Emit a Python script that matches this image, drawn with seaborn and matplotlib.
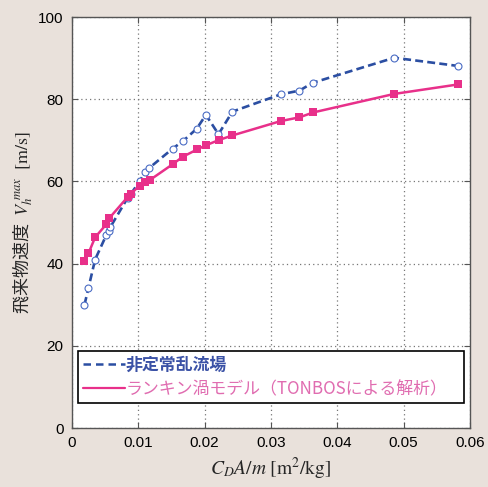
import matplotlib
matplotlib.use('Agg')
import matplotlib.pyplot as plt
import seaborn as sns
import pandas as pd
from matplotlib.lines import Line2D

# 非定常乱流場 (dashed, open circles)
x_flow = [0.0019, 0.0025, 0.0035, 0.0052, 0.0056, 0.0058, 0.0084, 0.0089, 0.0102,
          0.0110, 0.0116, 0.0152, 0.0168, 0.0188, 0.0202, 0.0221, 0.0242, 0.0315,
          0.0343, 0.0363, 0.0486, 0.0582]
y_flow = [30.0, 34.1, 41.0, 47.0, 48.0, 48.9, 56.0, 57.0, 60.0,
          62.2, 63.2, 68.0, 69.9, 72.8, 76.2, 71.5, 77.0, 81.2,
          82.1, 84.0, 90.1, 88.1]

# ランキン渦モデル (solid, squares)
x_rank = [0.0019, 0.0025, 0.0035, 0.0052, 0.0056, 0.0084, 0.0089, 0.0102, 0.0110,
          0.0118, 0.0152, 0.0167, 0.0189, 0.0202, 0.0222, 0.0242, 0.0315, 0.0343,
          0.0364, 0.0486, 0.0582]
y_rank = [40.6, 42.5, 46.4, 49.6, 51.0, 56.2, 57.0, 59.0, 59.8,
          60.4, 64.2, 66.0, 67.8, 68.8, 70.1, 71.2, 74.7, 75.6,
          76.8, 81.3, 83.6]

xticks = [0, 0.01, 0.02, 0.03, 0.04, 0.05, 0.06]
xtick_labels = ['0', '0.01', '0.02', '0.03', '0.04', '0.05', '0.06']
yticks = [0, 20, 40, 60, 80, 100]

label_flow = '非定常乱流場'
label_rank = 'ランキン渦モデル（TONBOSによる解析）'

sns.set_style('ticks')
plt.rcParams['font.family'] = ['Liberation Sans', 'Noto Sans CJK JP', 'DejaVu Sans']
plt.rcParams['mathtext.fontset'] = 'stix'

bg = '#e9e1db'
blue = '#2b4ea2'
pink = '#e8308a'

fig = plt.figure(figsize=(4.89, 4.87), dpi=100, facecolor=bg)
ax = fig.add_axes([0.147, 0.121, 0.814, 0.844])
ax.set_facecolor('white')

df_flow = pd.DataFrame({'x': x_flow, 'y': y_flow})
df_rank = pd.DataFrame({'x': x_rank, 'y': y_rank})

sns.lineplot(data=df_flow, x='x', y='y', ax=ax, color=blue, linestyle=(0, (3, 1.6)),
             linewidth=1.9, marker='o', markersize=5, markerfacecolor='white',
             markeredgecolor='#4a6cc4', markeredgewidth=0.8, sort=False, zorder=3)
sns.lineplot(data=df_rank, x='x', y='y', ax=ax, color=pink, linewidth=1.8,
             marker='s', markersize=6, markeredgewidth=0, sort=False, zorder=4)

ax.set_xlim(0, 0.06)
ax.set_ylim(0, 100)
ax.set_xticks(xticks)
ax.set_xticklabels(xtick_labels)
ax.set_yticks(yticks)
ax.tick_params(direction='in', length=4, width=0.8, colors='#555555',
               labelcolor='black', labelsize=11, top=True, right=True, pad=6)
ax.grid(True, linestyle=(0, (1, 2.5)), color='#777777', linewidth=0.9)
for s in ax.spines.values():
    s.set_color('#555555')
    s.set_linewidth(1.0)

ax.set_xlabel(r'$C_D A/m\ [\mathrm{m}^2/\mathrm{kg}]$', fontsize=14, labelpad=4)
ax.set_ylabel('飛来物速度  ' + r'$V_h^{\ max}\ \ [\mathrm{m/s}]$', fontsize=13,
              labelpad=2, family=['Noto Sans CJK JP', 'DejaVu Sans'])

handles = [Line2D([], [], color=blue, linestyle=(0, (3, 2)), linewidth=1.8),
           Line2D([], [], color=pink, linewidth=1.6)]
leg = ax.legend(handles, [label_flow, label_rank], loc='lower left',
                bbox_to_anchor=(0.015, 0.061, 0.97, 0.134), mode='expand',
                fancybox=False, framealpha=1, edgecolor='black', handlelength=2.5,
                handletextpad=0.0, borderpad=0.3, labelspacing=0.35,
                borderaxespad=0.0,
                prop={'family': ['Noto Sans CJK JP', 'DejaVu Sans'], 'size': 12.2})
leg.get_frame().set_linewidth(1.2)
leg.get_texts()[0].set_color('#3b52a6')
leg.get_texts()[0].set_fontweight('bold')
leg.get_texts()[1].set_color('#e06cb0')

fig.savefig('out.png', dpi=100, facecolor=bg)
